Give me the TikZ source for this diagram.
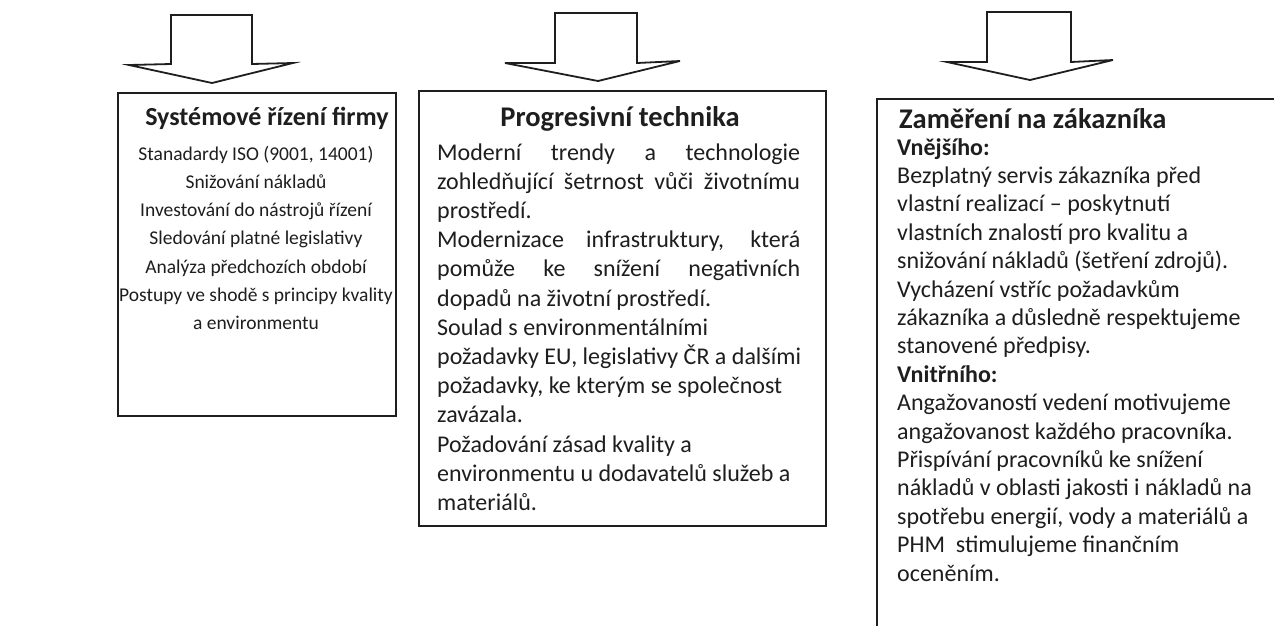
\documentclass[tikz,border=0pt]{standalone}
\usepackage{fontspec}
\setmainfont{Carlito}
\definecolor{ink}{HTML}{1E1E1E}
\begin{document}
\begin{tikzpicture}[x=1pt,y=-1pt,
  frame/.style={draw=ink, line width=1.8pt},
  blockarrow/.style={draw=ink, line width=1.8pt, line join=miter},
  body/.style={font=\fontsize{24}{29}\selectfont, text=ink, inner sep=0pt},
  bodys/.style={font=\fontsize{19.5}{28}\selectfont, text=ink, inner sep=0pt},
  ttl/.style={font=\fontsize{28.5}{32}\selectfont\bfseries, text=ink, inner sep=0pt},
  ttls/.style={font=\fontsize{26}{32}\selectfont\bfseries, text=ink, inner sep=0pt}]
\useasboundingbox (0,0) rectangle (1274,625);
\clip (0,0) rectangle (1274,625);
\fill[white] (0,0) rectangle (1274,625);

% block arrows
\draw[blockarrow] (171,15) -- (252,15) -- (252,64) -- (293,63) -- (212,83) -- (129,65) -- (171,64) -- cycle;
\draw[blockarrow] (555,13) -- (637,13) -- (637,63) -- (680,61) -- (598,81) -- (505,63) -- (555,63) -- cycle;
\draw[blockarrow] (987,12) -- (1071,12) -- (1071,62) -- (1113,60) -- (1030,80) -- (947,62) -- (987,62) -- cycle;

% boxes
\node[frame, minimum width=278pt, minimum height=323pt, anchor=north west, inner sep=0pt] (b1) at (117,92) {};
\node[frame, minimum width=407pt, minimum height=435pt, anchor=north west, inner sep=0pt] (b2) at (418,90) {};
\node[frame, minimum width=500pt, minimum height=600pt, anchor=north west, inner sep=0pt] (b3) at (876,98) {};

% box 1
\node[ttls, anchor=base] (t1) at (267,125) {Systémové řízení firmy};
\foreach [count=\i from 0] \t in {{Stanadardy ISO (9001, 14001)},Snižování nákladů,Investování do nástrojů řízení,Sledování platné legislativy,Analýza předchozích období,Postupy ve shodě s principy kvality,a environmentu}
  \node[bodys, anchor=base] (a\i) at (256,160+28.3*\i) {\t};

% box 2
\node[ttl, anchor=base] (t2) at (620,126) {Progresivní technika};
\foreach [count=\i from 0] \t in {%
  \makebox[363pt][s]{Moderní trendy a technologie},
  \makebox[363pt][s]{zohledňující šetrnost vůči životnímu},
  prostředí.,
  {\makebox[363pt][s]{Modernizace infrastruktury, která}},
  \makebox[363pt][s]{pomůže ke snížení negativních},
  dopadů na životní prostředí.,
  Soulad s environmentálními,
  {požadavky EU, legislativy ČR a dalšími},
  {požadavky, ke kterým se společnost},
  zavázala.,
  Požadování zásad kvality a,
  environmentu u dodavatelů služeb a,
  materiálů.}
  \node[body, anchor=base west] (p\i) at (437,160+29.2*\i) {\t};

% box 3
\node[ttl, anchor=base west] (t3) at (899,128) {Zaměření na zákazníka};
\foreach [count=\i from 0] \t in {%
  \textbf{Vnějšího:},
  Bezplatný servis zákazníka před,
  vlastní realizací – poskytnutí,
  vlastních znalostí pro kvalitu a,
  snižování nákladů (šetření zdrojů).,
  Vycházení vstříc požadavkům,
  zákazníka a důsledně respektujeme,
  stanovené předpisy.,
  \textbf{Vnitřního:},
  Angažovaností vedení motivujeme,
  angažovanost každého pracovníka.,
  Přispívání pracovníků ke snížení,
  nákladů v oblasti jakosti i nákladů na,
  {spotřebu energií, vody a materiálů a},
  PHM\ \ stimulujeme finančním,
  oceněním.}
  \node[body, anchor=base west] (c\i) at (897,155+28.4*\i) {\t};
\end{tikzpicture}
\end{document}
